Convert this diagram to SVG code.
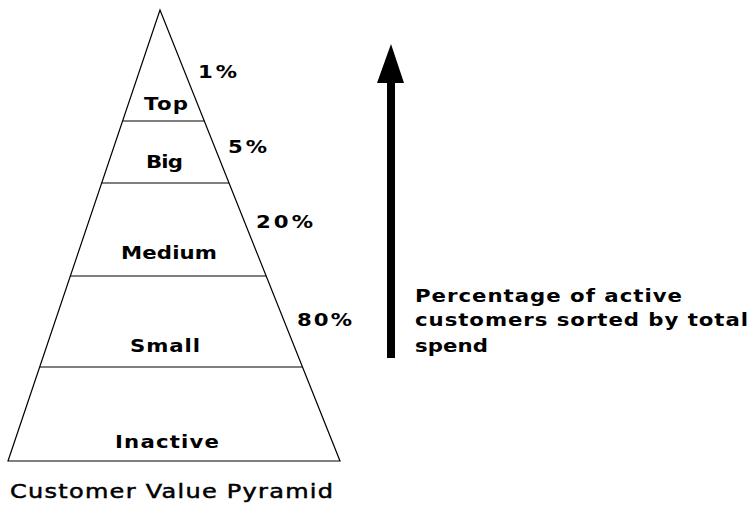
<svg xmlns="http://www.w3.org/2000/svg" width="752" height="505" viewBox="0 0 752 505">
<style>
.ln{stroke:#000;stroke-width:1.2;fill:none}
.lb{font-family:"DejaVu Sans","Verdana",sans-serif;font-weight:bold;font-size:17px;fill:#000}
.cap{font-family:"DejaVu Sans","Verdana",sans-serif;font-size:20px;fill:#000;stroke:#000;stroke-width:0.5}
</style>
<rect width="752" height="505" fill="#fff"/>
<g id="pyramid">
<polygon class="ln" points="160,10 340,461 8,461"/>
</g>
<g id="tier-top">
<line class="ln" x1="122.6" y1="121" x2="204.3" y2="121"/>
<text class="lb" transform="translate(144,110) scale(1.25,1)" textLength="35.2" lengthAdjust="spacing">Top</text>
<text class="lb" transform="translate(198,78) scale(1.25,1)" textLength="31.2" lengthAdjust="spacing">1%</text>
</g>
<g id="tier-big">
<line class="ln" x1="101.7" y1="183" x2="229" y2="183"/>
<text class="lb" transform="translate(146,168) scale(1.25,1)" textLength="29.6" lengthAdjust="spacing">Big</text>
<text class="lb" transform="translate(228,153) scale(1.25,1)" textLength="31.2" lengthAdjust="spacing">5%</text>
</g>
<g id="tier-medium">
<line class="ln" x1="70.4" y1="276" x2="266.2" y2="276"/>
<text class="lb" transform="translate(121,259) scale(1.25,1)" textLength="76.8" lengthAdjust="spacing">Medium</text>
<text class="lb" transform="translate(256,228) scale(1.25,1)" textLength="45.6" lengthAdjust="spacing">20%</text>
</g>
<g id="tier-small">
<line class="ln" x1="39.7" y1="367" x2="302.5" y2="367"/>
<text class="lb" transform="translate(130,352) scale(1.25,1)" textLength="56" lengthAdjust="spacing">Small</text>
<text class="lb" transform="translate(297,326) scale(1.25,1)" textLength="44" lengthAdjust="spacing">80%</text>
</g>
<g id="tier-inactive">
<text class="lb" transform="translate(115,448) scale(1.25,1)" textLength="83.2" lengthAdjust="spacing">Inactive</text>
</g>
<g id="caption">
<text class="cap" transform="translate(10,498) scale(1.2,1)" textLength="269.2" lengthAdjust="spacing">Customer Value Pyramid</text>
</g>
<g id="connectors">
<rect x="387" y="82" width="8" height="276" fill="#000"/>
<polygon points="391,44 404,83 377,83" fill="#000"/>
</g>
<g id="axis-label">
<text class="lb" transform="translate(415,302) scale(1.25,1)" textLength="213.6" lengthAdjust="spacing">Percentage of active</text>
<text class="lb" transform="translate(415,326) scale(1.25,1)" textLength="266.4" lengthAdjust="spacing">customers sorted by total</text>
<text class="lb" transform="translate(415,352) scale(1.25,1)" textLength="58.4" lengthAdjust="spacing">spend</text>
</g>
</svg>
